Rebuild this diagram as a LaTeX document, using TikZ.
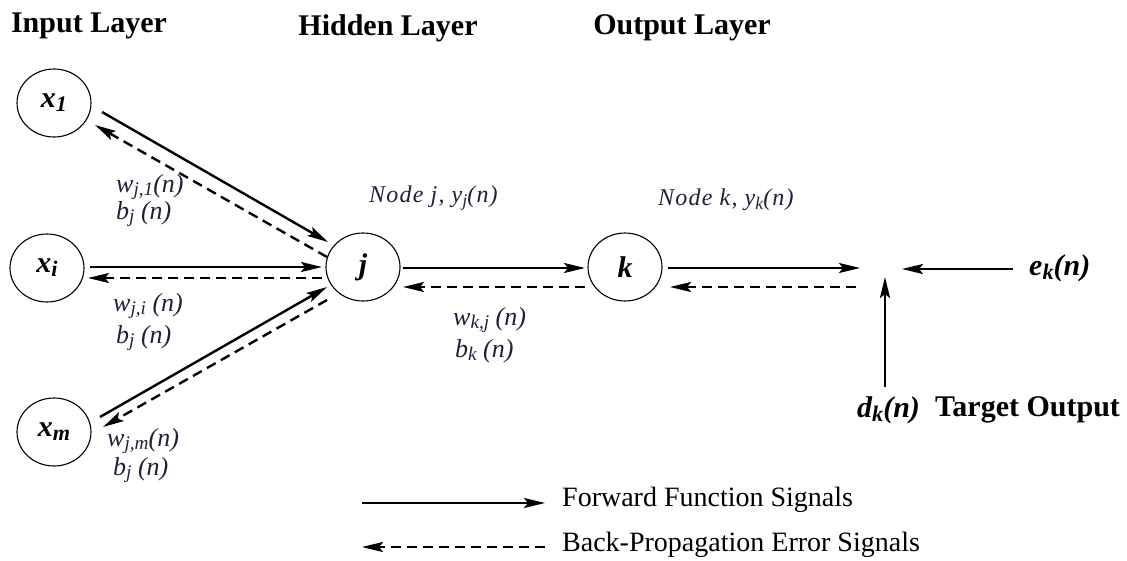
\documentclass[tikz,border=0pt]{standalone}
\usepackage{fontspec}
\setmainfont{Liberation Serif}
\newfontfamily\spacedfont[LetterSpace=5]{Liberation Serif}
\usetikzlibrary{arrows.meta,calc,shapes.geometric}
\newcommand{\lsb}[1]{\raisebox{-0.14em}{\scalebox{0.74}{#1}}}
\definecolor{labcol}{RGB}{30,32,60}
\begin{document}
\begin{tikzpicture}[x=1pt,y=-1pt,
  neuron/.style={draw,line width=1.1pt,ellipse,minimum width=74pt,minimum height=68pt,inner sep=0pt,font=\fontsize{30}{32}\selectfont\bfseries\itshape},
  header/.style={font=\fontsize{30}{34}\selectfont\bfseries},
  wlab/.style={anchor=west,inner sep=0pt,text=labcol,font=\fontsize{26}{28}\selectfont\itshape},
  nlab/.style={anchor=west,inner sep=0pt,text=labcol,font=\fontsize{24}{28}\spacedfont\itshape},
  blab/.style={anchor=west,inner sep=0pt,font=\fontsize{30}{34}\selectfont\bfseries},
  leglab/.style={anchor=west,inner sep=0pt,font=\fontsize{28}{32}\selectfont},
  fwd/.style={line width=2.4pt,-{Stealth[length=21pt,width=10pt,inset=4pt]}},
  bwd/.style={line width=2.4pt,dash pattern=on 10pt off 6pt,-{Stealth[length=21pt,width=10pt,inset=4pt]}}
]
\useasboundingbox (0,0) rectangle (1127,560);
% headers
\node[header] (hin) at (89,26) {Input Layer};
\node[header] (hhid) at (388,28) {Hidden Layer};
\node[header] (hout) at (682,28) {Output Layer};
% neurons
\node[neuron] (x1) at (54,103) {x\lsb{1}};
\node[neuron] (xi) at (47,268) {x\lsb{i}};
\node[neuron] (xm) at (54,432) {x\lsb{m}};
\node[neuron] (j) at (363,267) {j};
\node[neuron] (k) at (625,267) {k};
\coordinate (s) at (884,270);
% labels
\node[wlab] (w1) at (116,187) {w\lsb{j,1}(n)};
\node[wlab] (b1) at (116,214) {b\lsb{j} (n)};
\node[wlab] (wi) at (113,306) {w\lsb{j,i} (n)};
\node[wlab] (bi) at (116,338) {b\lsb{j} (n)};
\node[wlab] (wm) at (107,441) {w\lsb{j,m}(n)};
\node[wlab] (bm) at (113,470) {b\lsb{j} (n)};
\node[wlab] (wk) at (453,320) {w\lsb{k,j} (n)};
\node[wlab] (bk) at (455,351) {b\lsb{k} (n)};
\node[nlab] (nj) at (369,198) {Node j, y\lsb{j}(n)};
\node[nlab] (nk) at (658,200) {Node k, y\lsb{k}(n)};
\node[blab] (e) at (1029,268) {\textit{e\lsb{k}(n)}};
\node[blab] (d) at (857,410) {\textit{d\lsb{k}(n)}};
\node[blab] (t) at (935,410) {Target Output};
% connectors input -> hidden
\draw[fwd] ($(x1)+(48,9)$) -- ($(j)+(-35,-25)$);
\draw[bwd] ($(j)+(-36,-10)$) -- ($(x1)+(41,22)$);
\draw[fwd] ($(xi)+(43,-1)$) -- ($(j)+(-41,0)$);
\draw[bwd] ($(j)+(-41,11)$) -- ($(xi)+(41,10)$);
\draw[fwd] ($(xm)+(46,-15)$) -- ($(j)+(-36,20)$);
\draw[bwd] ($(j)+(-36,33)$) -- ($(xm)+(49,-5)$);
% hidden -> output
\draw[fwd] ($(j)+(40,1)$) -- ($(k)+(-40,1)$);
\draw[bwd] ($(k)+(-40,20)$) -- ($(j)+(40,20)$);
% output -> junction
\draw[fwd] ($(k)+(43,1)$) -- ($(s)+(-24,-2)$);
\draw[bwd] ($(s)+(-28,17)$) -- ($(k)+(45,20)$);
\draw[fwd] ($(e.west)+(-16,1)$) -- ($(s)+(18,-1)$);
\draw[fwd] ($(s)+(1,117)$) -- ($(s)+(1,7)$);
% legend
\coordinate (l1a) at (362,503);
\coordinate (l1b) at (545,503);
\coordinate (l2a) at (545,547);
\coordinate (l2b) at (362,547);
\draw[fwd] (l1a) -- (l1b);
\draw[bwd] (l2a) -- (l2b);
\node[leglab] (lf) at (562,500) {Forward Function Signals};
\node[leglab] (lb) at (562,545) {Back-Propagation Error Signals};
\end{tikzpicture}
\end{document}
